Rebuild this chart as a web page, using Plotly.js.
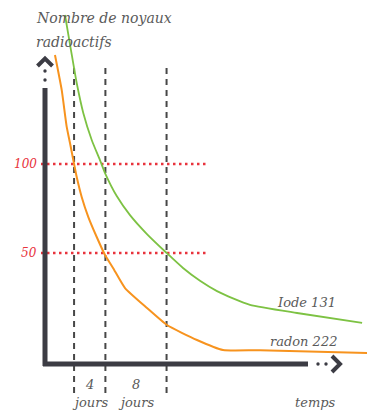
<!DOCTYPE html>
<html><head><meta charset="utf-8">
<script src="https://cdn.plot.ly/plotly-3.0.1.min.js"></script>
<style>html,body{margin:0;padding:0;background:#fff}#chart{width:367px;height:410px}</style>
</head><body><div id="chart"></div>
<script>
// ---- data (days, number of nuclei) ----
const iodeDays   = [2.65, 3.44, 4.20, 5.07, 6.19, 7.28, 7.95, 9.50, 11.26, 13.47, 16.12, 18.28, 20.53, 22.78, 24.9, 27.15, 33.38, 42.0];
const iodeValues = [183.7, 164.0, 145.5, 128.7, 113.5, 102.2, 94.9, 82.0, 71.3, 60.8, 50.0, 41.6, 34.4, 28.6, 24.5, 20.9, 16.3, 10.7];
const radonDays   = [1.32, 2.21, 2.87, 3.31, 3.88, 4.20, 4.86, 5.74, 6.85, 7.95, 9.01, 10.60, 13.51, 16.16, 20.13, 23.58, 28.48, 42.65];
const radonValues = [161.2, 141.6, 121.0, 111.8, 99.4, 92.7, 81.5, 70.2, 59.0, 48.9, 41.6, 30.3, 19.1, 9.55, 1.12, -4.5, -4.6, -6.2];
const refLevels = [100, 50];
const refLabels = ['100', '50'];
const halfLifeMarks = [3.85, 8.0, 16.1];
const intervalLabels = ['4', '8'];
const intervalUnit = 'jours';
const seriesNames = ['Iode 131', 'radon 222'];
const yTitle = ['Nombre de noyaux', 'radioactifs'];
const xTitle = 'temps';

// ---- styling ----
const W = 367, H = 410;
const GREEN = '#7dc243', ORANGE = '#f7931e', RED = '#e8333c', AXIS = '#3c3c44', DASH = '#474747', TXT = '#5a5a5a';
const FONT = 'DejaVu Serif';
const px = x => x / W, py = y => 1 - y / H;

const traces = [
  {x: iodeDays, y: iodeValues, mode: 'lines', name: seriesNames[0], line: {color: GREEN, width: 1.8, shape: 'spline', smoothing: 0.6}},
  {x: radonDays, y: radonValues, mode: 'lines', name: seriesNames[1], line: {color: ORANGE, width: 2, shape: 'spline', smoothing: 0.5}}
];

const shapes = [];
// vertical dashed marks
halfLifeMarks.forEach(d => shapes.push({type: 'line', xref: 'x', yref: 'paper', x0: d, x1: d, y0: py(68), y1: py(393),
  line: {color: DASH, width: 2, dash: '6px,5px'}, layer: 'below'}));
// red dotted reference levels
refLevels.forEach(v => shapes.push({type: 'line', xref: 'paper', yref: 'y', x0: px(41), x1: px(206), y0: v, y1: v,
  line: {color: RED, width: 2.5, dash: '2.5px,3.5px'}, layer: 'below'}));
// y axis
shapes.push({type: 'line', xref: 'paper', yref: 'paper', x0: px(45), x1: px(45), y0: py(88), y1: py(366), line: {color: AXIS, width: 5}});
[71, 80].forEach(y => shapes.push({type: 'circle', xref: 'paper', yref: 'paper', x0: px(43.3), x1: px(46.7), y0: py(y - 1.7), y1: py(y + 1.7), fillcolor: AXIS, line: {width: 0}}));
shapes.push({type: 'path', xref: 'paper', yref: 'paper',
  path: `M ${px(37.5)} ${py(66)} L ${px(45)} ${py(58.5)} L ${px(52.5)} ${py(66)}`, line: {color: AXIS, width: 4}});
// x axis
shapes.push({type: 'line', xref: 'paper', yref: 'paper', x0: px(43), x1: px(308), y0: py(364), y1: py(364), line: {color: AXIS, width: 5}});
[318, 326].forEach(x => shapes.push({type: 'circle', xref: 'paper', yref: 'paper', x0: px(x - 1.7), x1: px(x + 1.7), y0: py(362.3), y1: py(365.7), fillcolor: AXIS, line: {width: 0}}));
shapes.push({type: 'path', xref: 'paper', yref: 'paper',
  path: `M ${px(332)} ${py(356)} L ${px(340)} ${py(364)} L ${px(332)} ${py(372)}`, line: {color: AXIS, width: 4}});

const it = (size, color) => ({family: FONT, size: size, color: color, style: 'italic'});
const ann = [];
ann.push({xref: 'paper', yref: 'paper', x: px(34), y: py(18), xanchor: 'left', yanchor: 'middle', text: yTitle[0], showarrow: false, font: it(14, TXT)});
ann.push({xref: 'paper', yref: 'paper', x: px(34), y: py(42), xanchor: 'left', yanchor: 'middle', text: yTitle[1], showarrow: false, font: it(14, TXT)});
refLevels.forEach((v, i) => ann.push({xref: 'paper', yref: 'y', x: px(39), y: v, xanchor: 'right', yanchor: 'middle', text: refLabels[i], showarrow: false, font: it(12, RED)}));
intervalLabels.forEach((t, i) => {
  const mid = (halfLifeMarks[i] + halfLifeMarks[i + 1]) / 2;
  ann.push({xref: 'x', yref: 'paper', x: mid, y: py(384), xanchor: 'center', yanchor: 'middle', text: t, showarrow: false, font: it(13, TXT)});
  ann.push({xref: 'x', yref: 'paper', x: mid, y: py(402), xanchor: 'center', yanchor: 'middle', text: intervalUnit, showarrow: false, font: it(13, TXT)});
});
ann.push({xref: 'paper', yref: 'paper', x: px(338), y: py(302), xanchor: 'right', yanchor: 'middle', text: seriesNames[0], showarrow: false, font: it(13, TXT)});
ann.push({xref: 'paper', yref: 'paper', x: px(339), y: py(341), xanchor: 'right', yanchor: 'middle', text: seriesNames[1], showarrow: false, font: it(13, TXT)});
ann.push({xref: 'paper', yref: 'paper', x: px(338), y: py(402), xanchor: 'right', yanchor: 'middle', text: xTitle, showarrow: false, font: it(13, TXT)});

const layout = {
  width: W, height: H, margin: {l: 0, r: 0, t: 0, b: 0},
  paper_bgcolor: '#fff', plot_bgcolor: '#fff', showlegend: false,
  xaxis: {range: [-45 / 7.55, (W - 45) / 7.55], visible: false, fixedrange: true},
  yaxis: {range: [(342 - H) / 1.78, 342 / 1.78], visible: false, fixedrange: true},
  shapes: shapes, annotations: ann
};
Plotly.newPlot('chart', traces, layout, {displayModeBar: false, staticPlot: true});
</script></body></html>
